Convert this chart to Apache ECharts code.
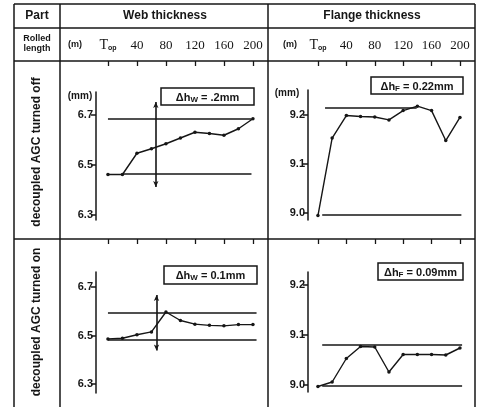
<!DOCTYPE html>
<html>
<head>
<meta charset="utf-8">
<script src="https://cdn.jsdelivr.net/npm/echarts@6/dist/echarts.min.js"></script>
<style>
  html, body { margin: 0; padding: 0; background: #fff; }
  #chart { width: 480px; height: 407px; }
</style>
</head>
<body>
<div id="chart"></div>
<script>
// rolled length (m), Top = 0
const rolledLength = [0, 20, 40, 60, 80, 100, 120, 140, 160, 180, 200];
const lengthTicks = [0, 40, 80, 120, 160, 200];
const webTicks = [6.3, 6.5, 6.7];
const flangeTicks = [9.0, 9.1, 9.2];

// web thickness (mm)
const webAgcOff = [6.462, 6.462, 6.547, 6.565, 6.585, 6.608, 6.631, 6.626, 6.619, 6.645, 6.685];
const webAgcOn = [6.486, 6.489, 6.503, 6.515, 6.597, 6.562, 6.547, 6.542, 6.540, 6.545, 6.545];
// flange thickness (mm)
const flangeAgcOff = [8.995, 9.153, 9.199, 9.197, 9.196, 9.190, 9.209, 9.218, 9.209, 9.148, 9.195];
const flangeAgcOn = [8.997, 9.006, 9.053, 9.077, 9.076, 9.026, 9.061, 9.061, 9.061, 9.060, 9.074];

// tolerance bands [from, to, level] and marker line [x, yTop, yBottom]
const webOffBand = [[0, 198, 6.685], [20, 198, 6.466]];
const webOnBand = [[0, 205, 6.595], [0, 205, 6.484]];
const flangeOffBand = [[10, 139, 9.215], [6, 202, 8.997]];
const flangeOnBand = [[6, 203, 9.080], [6, 203, 8.998]];
const webOffMark = [66, 6.752, 6.412];
const webOnMark = [67, 6.667, 6.438];
const flangeOffMark = [66, 9.247, 8.971];
const flangeOnMark = [50, 9.114, 8.964];

const INK = '#161616';
const chart = echarts.init(document.getElementById('chart'));

function xAxisFor(gridIndex, min, max, offset, showLabels) {
    return {
        type: 'value', gridIndex: gridIndex, position: 'top', min: min, max: max, offset: offset,
        axisLine: { show: false, onZero: false },
        splitLine: { show: false },
        axisTick: { show: true, inside: true, length: 5, customValues: lengthTicks,
            lineStyle: { color: INK, width: 1.3 } },
        axisLabel: {
            show: showLabels, customValues: lengthTicks, margin: 9,
            color: INK, fontFamily: 'Liberation Serif', fontSize: 13,
            formatter: function (v) { return v === 0 ? '{t|T}{s|op}' : String(v); },
            rich: {
                t: { fontFamily: 'Liberation Serif', fontSize: 14, color: INK },
                s: { fontFamily: 'Liberation Sans', fontSize: 7, fontWeight: 'bold', color: INK,
                    verticalAlign: 'bottom', padding: [4, 0, 0, 0] }
            }
        }
    };
}

function yAxisFor(gridIndex, min, max, ticks) {
    return {
        type: 'value', gridIndex: gridIndex, min: min, max: max,
        axisLine: { show: true, onZero: false, lineStyle: { color: INK, width: 1.5 } },
        axisTick: { show: true, length: 5, customValues: ticks, lineStyle: { color: INK, width: 1.5 } },
        axisLabel: { customValues: ticks, margin: 3, color: INK, fontWeight: 'bold',
            fontFamily: 'Liberation Sans', fontSize: 11,
            formatter: function (v) { return v.toFixed(1); } },
        splitLine: { show: false }
    };
}

function seriesFor(index, values, band, mark) {
    const lines = band.map(function (b) {
        return [{ coord: [b[0], b[2]] }, { coord: [b[1], b[2]] }];
    });
    lines.push([
        { coord: [mark[0], mark[1]], symbol: 'arrow' },
        { coord: [mark[0], mark[2]], symbol: 'arrow' }
    ]);
    return {
        type: 'line', xAxisIndex: index, yAxisIndex: index, clip: false,
        data: rolledLength.map(function (x, i) { return [x, values[i]]; }),
        symbol: 'circle', symbolSize: 3.5, showSymbol: true,
        lineStyle: { color: INK, width: 1.4 },
        itemStyle: { color: INK },
        markLine: {
            silent: true, symbol: ['none', 'none'], symbolSize: [4, 6],
            label: { show: false },
            lineStyle: { color: INK, width: 1.6, type: 'solid' },
            data: lines
        }
    };
}

function rule(x1, y1, x2, y2, w) {
    return { type: 'line', silent: true, shape: { x1: x1, y1: y1, x2: x2, y2: y2 },
        style: { stroke: INK, lineWidth: w || 1.5 } };
}

function label(x, y, text, size, opts) {
    return Object.assign({ type: 'text', silent: true, x: x, y: y,
        style: { text: text, fill: INK, font: 'bold ' + size + 'px "Liberation Sans"',
            align: 'center', verticalAlign: 'middle' } }, opts || {});
}

function deltaBox(x, y, w, h, sub, value) {
    return [
        { type: 'rect', silent: true, shape: { x: x, y: y, width: w, height: h },
          style: { fill: '#fff', stroke: INK, lineWidth: 1.5 } },
        { type: 'text', silent: true, x: x + w / 2, y: y + h / 2 + 1,
          style: { text: '{a|\u0394h}{s|' + sub + '}{a| = ' + value + '}', align: 'center', verticalAlign: 'middle',
            rich: {
                a: { fontFamily: 'Liberation Sans', fontWeight: 'bold', fontSize: 11, fill: INK },
                s: { fontFamily: 'Liberation Sans', fontWeight: 'bold', fontSize: 8, fill: INK,
                    verticalAlign: 'bottom', padding: [4, 0, 0, 0] }
            } } }
    ];
}

const graphics = [
    rule(14, 4, 475, 4), rule(14, 28, 475, 28), rule(14, 61, 475, 61), rule(14, 239, 475, 239),
    rule(14, 4, 14, 407), rule(60, 4, 60, 407), rule(268, 4, 268, 407), rule(475, 4, 475, 407),
    label(37, 16, 'Part', 12),
    label(165, 16, 'Web thickness', 12),
    label(372, 16, 'Flange thickness', 12),
    label(37, 44, 'Rolled\nlength', 9, { style: { text: 'Rolled\nlength', fill: INK,
        font: 'bold 9px "Liberation Sans"', align: 'center', verticalAlign: 'middle', lineHeight: 10 } }),
    label(75, 45, '(m)', 9),
    label(290, 45, '(m)', 9),
    label(37, 152, 'decoupled AGC turned off', 12, { rotation: Math.PI / 2 }),
    label(37, 322, 'decoupled AGC turned on', 12, { rotation: Math.PI / 2 }),
    label(80, 96, '(mm)', 10),
    label(287, 93, '(mm)', 10)
].concat(
    deltaBox(161, 88, 93, 17, 'W', '.2mm'),
    deltaBox(164, 266, 93, 18, 'W', '0.1mm'),
    deltaBox(371, 77, 92, 17, 'F', '0.22mm'),
    deltaBox(378, 263, 85, 17, 'F', '0.09mm')
);

chart.setOption({
    animation: false,
    backgroundColor: '#fff',
    grid: [
        { left: 96, top: 92, width: 162, height: 128 },
        { left: 308, top: 90, width: 158, height: 130 },
        { left: 96, top: 272, width: 162, height: 121 },
        { left: 308, top: 272, width: 158, height: 120 }
    ],
    xAxis: [
        xAxisFor(0, -16.5, 207, 31, true),
        xAxisFor(1, -14, 208.5, 29, true),
        xAxisFor(2, -16.5, 207, 33, false),
        xAxisFor(3, -14, 208.5, 33, false)
    ],
    yAxis: [
        yAxisFor(0, 6.28, 6.792, webTicks),
        yAxisFor(1, 8.986, 9.251, flangeTicks),
        yAxisFor(2, 6.263, 6.762, webTicks),
        yAxisFor(3, 8.986, 9.226, flangeTicks)
    ],
    series: [
        seriesFor(0, webAgcOff, webOffBand, webOffMark),
        seriesFor(1, flangeAgcOff, flangeOffBand, flangeOffMark),
        seriesFor(2, webAgcOn, webOnBand, webOnMark),
        seriesFor(3, flangeAgcOn, flangeOnBand, flangeOnMark)
    ],
    graphic: graphics
});

window.addEventListener('resize', function () {
    chart.resize();
});
</script>
</body>
</html>
